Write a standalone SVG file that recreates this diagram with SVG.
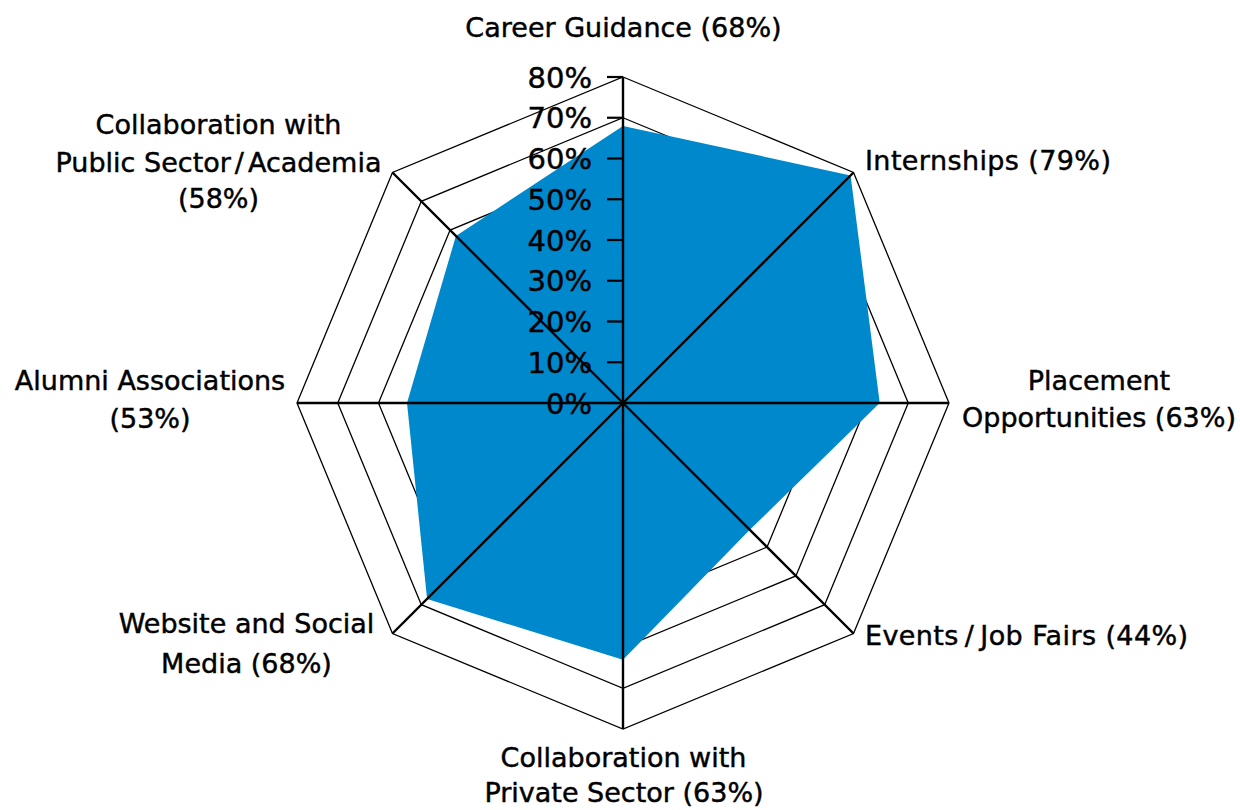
<svg xmlns="http://www.w3.org/2000/svg" width="1240" height="810" viewBox="0 0 1240 810">
<style>
.ring{fill:none;stroke:#000;stroke-width:1.3;stroke-linejoin:miter}
.axis{stroke:#000;stroke-width:2.4}
.tick{stroke:#000;stroke-width:2.2}
.lbl{font-family:"DejaVu Sans","Liberation Sans",sans-serif;font-size:27px;fill:#000;stroke:#000;stroke-width:0.45}
.tl{font-family:"DejaVu Sans","Liberation Sans",sans-serif;font-size:29px;fill:#000;stroke:#000;stroke-width:0.45;text-anchor:end}
.mid{text-anchor:middle}
.wide{letter-spacing:0.4px}
</style>
<rect width="1240" height="810" fill="#fff"/>
<g id="grid">
<polygon class="ring" points="623,362.25 651.81,374.19 663.75,403 651.81,431.81 623,443.75 594.19,431.81 582.25,403 594.19,374.19"/>
<polygon class="ring" points="623,321.5 680.63,345.37 704.5,403 680.63,460.63 623,484.5 565.37,460.63 541.5,403 565.37,345.37"/>
<polygon class="ring" points="623,280.75 709.44,316.56 745.25,403 709.44,489.44 623,525.25 536.56,489.44 500.75,403 536.56,316.56"/>
<polygon class="ring" points="623,240 738.26,287.74 786,403 738.26,518.26 623,566 507.74,518.26 460,403 507.74,287.74"/>
<polygon class="ring" points="623,199.25 767.07,258.93 826.75,403 767.07,547.07 623,606.75 478.93,547.07 419.25,403 478.93,258.93"/>
<polygon class="ring" points="623,158.5 795.89,230.11 867.5,403 795.89,575.89 623,647.5 450.11,575.89 378.5,403 450.11,230.11"/>
<polygon class="ring" points="623,117.75 824.7,201.3 908.25,403 824.7,604.7 623,688.25 421.3,604.7 337.75,403 421.3,201.3"/>
<polygon class="ring" points="623,77 853.52,172.48 949,403 853.52,633.52 623,729 392.48,633.52 297,403 392.48,172.48"/>
</g>
<g id="series">
<polygon fill="#0088CD" points="623,125.9 850.6,175.4 879.7,403 749.8,529.8 623,659.7 427.1,598.9 407,403 455.9,235.9"/>
</g>
<g id="connectors">
<line class="axis" x1="623" y1="403" x2="623" y2="77"/>
<line class="axis" x1="623" y1="403" x2="853.52" y2="172.48"/>
<line class="axis" x1="623" y1="403" x2="949" y2="403"/>
<line class="axis" x1="623" y1="403" x2="853.52" y2="633.52"/>
<line class="axis" x1="623" y1="403" x2="623" y2="729"/>
<line class="axis" x1="623" y1="403" x2="392.48" y2="633.52"/>
<line class="axis" x1="623" y1="403" x2="297" y2="403"/>
<line class="axis" x1="623" y1="403" x2="392.48" y2="172.48"/>
</g>
<g id="scale">
<line class="tick" x1="607" y1="403" x2="623" y2="403"/>
<line class="tick" x1="607" y1="362.25" x2="623" y2="362.25"/>
<line class="tick" x1="607" y1="321.5" x2="623" y2="321.5"/>
<line class="tick" x1="607" y1="280.75" x2="623" y2="280.75"/>
<line class="tick" x1="607" y1="240" x2="623" y2="240"/>
<line class="tick" x1="607" y1="199.25" x2="623" y2="199.25"/>
<line class="tick" x1="607" y1="158.5" x2="623" y2="158.5"/>
<line class="tick" x1="607" y1="117.75" x2="623" y2="117.75"/>
<line class="tick" x1="607" y1="77" x2="623" y2="77"/>
<text class="tl" x="592" y="413.5">0%</text>
<text class="tl" x="592" y="372.75">10%</text>
<text class="tl" x="592" y="332">20%</text>
<text class="tl" x="592" y="291.25">30%</text>
<text class="tl" x="592" y="250.5">40%</text>
<text class="tl" x="592" y="209.75">50%</text>
<text class="tl" x="592" y="169">60%</text>
<text class="tl" x="592" y="128.25">70%</text>
<text class="tl" x="592" y="87.5">80%</text>
</g>
<g id="label-career"><text class="lbl mid" x="623.5" y="37">Career Guidance (68%)</text></g>
<g id="label-internships"><text class="lbl wide" x="865" y="170">Internships (79%)</text></g>
<g id="label-placement"><text class="lbl mid" x="1099" y="390">Placement</text><text class="lbl mid" x="1099" y="427">Opportunities (63%)</text></g>
<g id="label-events"><text class="lbl wide" x="865" y="645">Events<tspan dx="6">/</tspan><tspan dx="6">Job Fairs (44%)</tspan></text></g>
<g id="label-private"><text class="lbl mid" x="623.5" y="767">Collaboration with</text><text class="lbl mid" x="624" y="802">Private Sector (63%)</text></g>
<g id="label-website"><text class="lbl mid" x="246.5" y="633">Website and Social</text><text class="lbl mid" x="246.5" y="673">Media (68%)</text></g>
<g id="label-alumni"><text class="lbl mid" x="150" y="390">Alumni Associations</text><text class="lbl mid" x="150" y="428">(53%)</text></g>
<g id="label-public"><text class="lbl mid" x="218.5" y="134">Collaboration with</text><text class="lbl mid" x="218.5" y="172">Public Sector<tspan dx="4">/</tspan><tspan dx="4">Academia</tspan></text><text class="lbl mid" x="218.5" y="208">(58%)</text></g>
</svg>
